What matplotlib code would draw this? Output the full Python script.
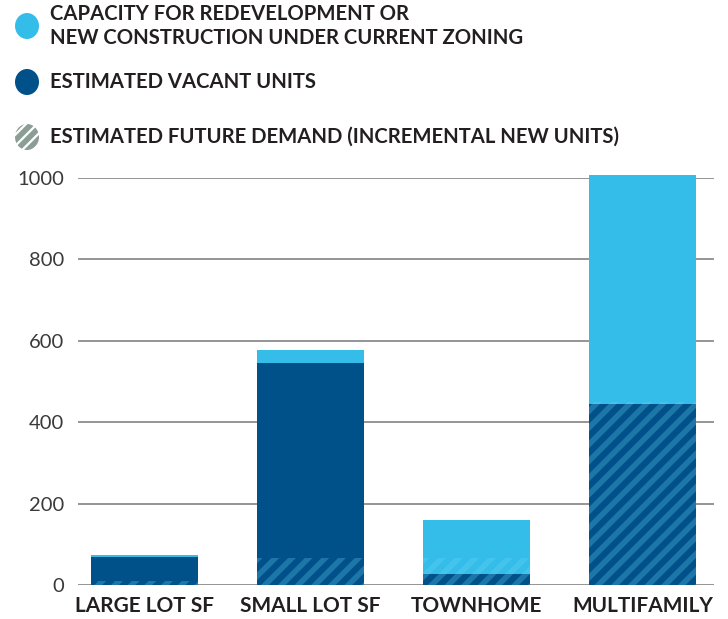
import matplotlib
matplotlib.use('Agg')
import matplotlib.pyplot as plt
from matplotlib.patches import Ellipse
import numpy as np

categories = ["LARGE LOT SF", "SMALL LOT SF", "TOWNHOME", "MULTIFAMILY"]
vacant_units = [69, 545, 28, 445]
redevelopment_capacity = [5, 32, 132, 562]
future_demand = [10, 66, 66, 450]
yticks = [0, 200, 400, 600, 800, 1000]

legend_labels = ["CAPACITY FOR REDEVELOPMENT OR\nNEW CONSTRUCTION UNDER CURRENT ZONING",
                 "ESTIMATED VACANT UNITS",
                 "ESTIMATED FUTURE DEMAND (INCREMENTAL NEW UNITS)"]

light = "#35bdea"
dark = "#00508a"
text_col = "#231f20"

plt.rcParams['font.family'] = ['Lato', 'DejaVu Sans']
plt.rcParams['hatch.linewidth'] = 4.0

fig = plt.figure(figsize=(7.28, 6.19), dpi=100)
ax = fig.add_axes([78/728, 1 - 585/619, (714-78)/728, (585-178)/619])

x = np.arange(len(categories))
w = 0.64
ax.bar(x, vacant_units, width=w, color=dark, zorder=2, clip_on=False)
ax.bar(x, redevelopment_capacity, width=w, bottom=vacant_units, color=light,
       zorder=2, clip_on=False)
# demand drawn as a translucent stripe overlay
ax.bar(x, future_demand, width=w, facecolor='none', edgecolor=(0.42, 0.85, 0.97, 0.28),
       hatch='//', linewidth=0, zorder=3)

ax.set_xlim(-0.4, 3.43)
ax.set_ylim(0, 1000)
ax.set_yticks(yticks)
ax.set_yticklabels([str(t) for t in yticks], fontsize=14.5, color="#3a3a3a")
ax.set_xticks(x)
ax.set_xticklabels(categories, fontsize=15, fontweight='bold', color=text_col)
ax.tick_params(axis='y', length=0, pad=10)
ax.tick_params(axis='x', length=0, pad=8)
ax.grid(axis='y', color="#8c8c8c", linewidth=1.3, zorder=0)
ax.set_axisbelow(True)
for s in ax.spines.values():
    s.set_visible(False)

# legend drawn by hand at the top
lx = 27 / 728
ys = [1 - 26/619, 1 - 82/619, 1 - 137/619]
ew, eh = 24/728, 26/619
fig.patches.append(Ellipse((lx, ys[0]), ew, eh, transform=fig.transFigure,
                           facecolor=light, edgecolor='none'))
fig.patches.append(Ellipse((lx, ys[1]), ew, eh, transform=fig.transFigure,
                           facecolor=dark, edgecolor='none'))
plt.rcParams['hatch.linewidth'] = 4.0
fig.patches.append(Ellipse((lx, ys[2]), ew, eh, transform=fig.transFigure,
                           facecolor='none', edgecolor="#8a9e96", hatch='///',
                           linewidth=0))
for y, lab in zip(ys, legend_labels):
    fig.text(50/728, y, lab, fontsize=14.6, fontweight='bold', color=text_col,
             va='center', ha='left', linespacing=1.25)

fig.savefig("out.png", dpi=100)
